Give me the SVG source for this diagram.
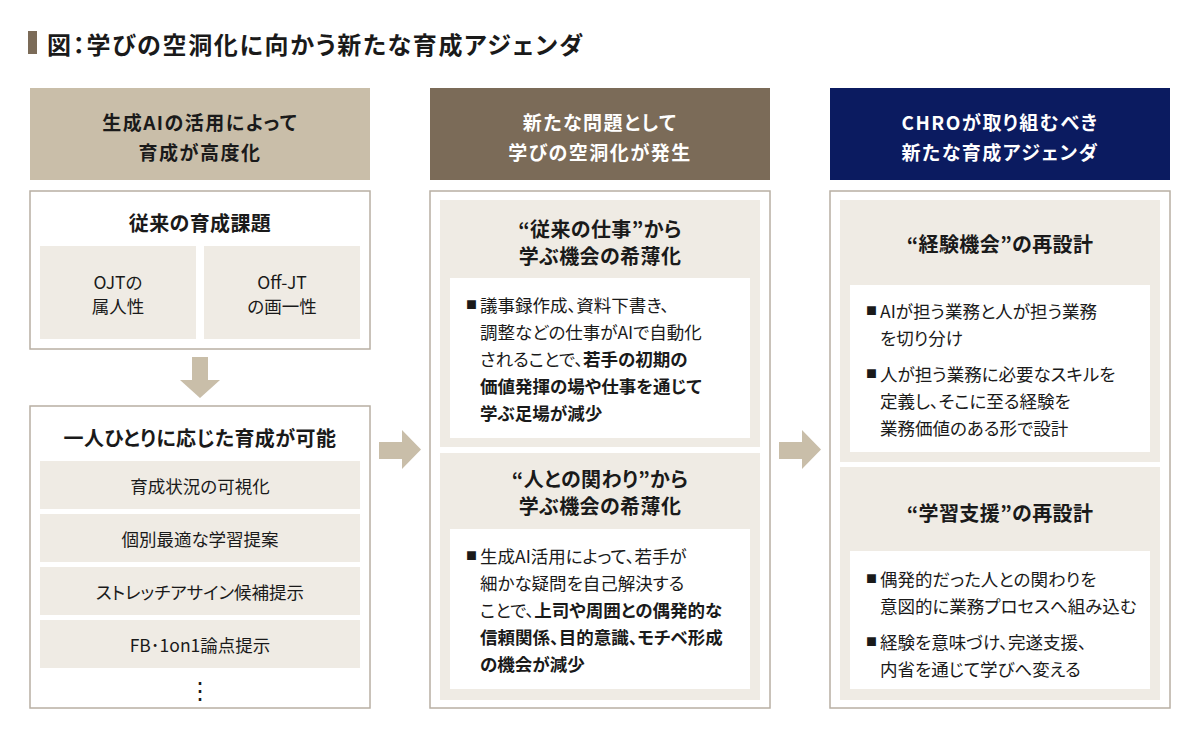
<svg xmlns="http://www.w3.org/2000/svg" width="1200" height="740" viewBox="0 0 1200 740">
<style>
text{font-family:"Noto Sans CJK JP","Noto Sans",sans-serif;fill:#1a1a1a;font-feature-settings:"palt";}
.c{text-anchor:middle;dominant-baseline:central;}
.l{dominant-baseline:central;}
.hd{font-size:19px;font-weight:700;letter-spacing:1.5px;}
.w{fill:#ffffff;}
.st{font-size:20px;font-weight:700;letter-spacing:0.4px;}
.tx{font-size:17.5px;}
.b{font-weight:700;}
.sq{font-size:11px;}
.box{fill:#ffffff;stroke:#b8afa3;stroke-width:1.5;}
.pan{fill:#efebe4;}
.wb{fill:#ffffff;}
.arr{fill:#c9bea9;}
</style>
<rect width="1200" height="740" fill="#ffffff"/>
<g id="title">
<rect x="28" y="31" width="9" height="23" fill="#7b6b58"/>
<text x="47" y="43" class="l" style="font-size:24px;font-weight:700;letter-spacing:1.7px">図：学びの空洞化に向かう新たな育成アジェンダ</text>
</g>
<g id="col1-header">
<rect x="30" y="88" width="340" height="92" fill="#c9bea9"/>
<text x="200" y="121" class="c hd">生成AIの活用によって</text>
<text x="200" y="151" class="c hd">育成が高度化</text>
</g>
<g id="col1-box1">
<rect x="30" y="191" width="340" height="158" class="box"/>
<text x="200" y="222" class="c st">従来の育成課題</text>
<rect x="40" y="246" width="156" height="93" class="pan"/>
<rect x="204" y="246" width="156" height="93" class="pan"/>
<text x="118" y="281" class="c tx">OJTの</text>
<text x="118" y="305" class="c tx">属人性</text>
<text x="282" y="281" class="c tx">Off-JT</text>
<text x="282" y="305" class="c tx">の画一性</text>
</g>
<g id="col1-box2">
<rect x="30" y="406" width="340" height="302" class="box"/>
<text x="200" y="437" class="c st">一人ひとりに応じた育成が可能</text>
<rect x="40" y="461" width="320" height="48" class="pan"/>
<rect x="40" y="514" width="320" height="48" class="pan"/>
<rect x="40" y="567" width="320" height="48" class="pan"/>
<rect x="40" y="620" width="320" height="48" class="pan"/>
<text x="200" y="485" class="c tx">育成状況の可視化</text>
<text x="200" y="538" class="c tx">個別最適な学習提案</text>
<text x="200" y="591" class="c tx">ストレッチアサイン候補提示</text>
<text x="200" y="644" class="c tx">FB･1on1論点提示</text>
<text x="200" y="688" class="c" style="font-size:24px">⋮</text>
</g>
<g id="col2-header">
<rect x="430" y="88" width="340" height="92" fill="#7b6b58"/>
<text x="600" y="121" class="c hd w">新たな問題として</text>
<text x="600" y="151" class="c hd w">学びの空洞化が発生</text>
</g>
<g id="col2-box">
<rect x="430" y="191" width="340" height="517" class="box"/>
<rect x="440" y="200" width="320" height="247" class="pan"/>
<text x="600" y="228" class="c st">“従来の仕事”から</text>
<text x="600" y="255" class="c st">学ぶ機会の希薄化</text>
<rect x="450" y="278" width="300" height="160" class="wb"/>
<text x="466" y="304" class="l sq">■</text>
<text x="480" y="304" class="l tx">議事録作成、資料下書き、</text>
<text x="480" y="331" class="l tx">調整などの仕事がAIで自動化</text>
<text x="480" y="358" class="l tx">されることで、<tspan class="b">若手の初期の</tspan></text>
<text x="480" y="385" class="l tx b">価値発揮の場や仕事を通じて</text>
<text x="480" y="412" class="l tx b">学ぶ足場が減少</text>
<rect x="440" y="453" width="320" height="247" class="pan"/>
<text x="600" y="478" class="c st">“人との関わり”から</text>
<text x="600" y="505" class="c st">学ぶ機会の希薄化</text>
<rect x="450" y="529" width="300" height="160" class="wb"/>
<text x="466" y="555" class="l sq">■</text>
<text x="480" y="555" class="l tx">生成AI活用によって、若手が</text>
<text x="480" y="582" class="l tx">細かな疑問を自己解決する</text>
<text x="480" y="609" class="l tx">ことで、<tspan class="b">上司や周囲との偶発的な</tspan></text>
<text x="480" y="636" class="l tx b">信頼関係、目的意識、モチベ形成</text>
<text x="480" y="663" class="l tx b">の機会が減少</text>
</g>
<g id="col3-header">
<rect x="830" y="88" width="340" height="92" fill="#0b1b60"/>
<text x="1000" y="121" class="c hd w">CHROが取り組むべき</text>
<text x="1000" y="151" class="c hd w">新たな育成アジェンダ</text>
</g>
<g id="col3-box">
<rect x="830" y="191" width="340" height="517" class="box"/>
<rect x="840" y="200" width="320" height="262" class="pan"/>
<text x="1000" y="243" class="c st">“経験機会”の再設計</text>
<rect x="850" y="285" width="300" height="167" class="wb"/>
<text x="866" y="310" class="l sq">■</text>
<text x="880" y="310" class="l tx">AIが担う業務と人が担う業務</text>
<text x="880" y="337" class="l tx">を切り分け</text>
<text x="866" y="373" class="l sq">■</text>
<text x="880" y="373" class="l tx">人が担う業務に必要なスキルを</text>
<text x="880" y="400" class="l tx">定義し、そこに至る経験を</text>
<text x="880" y="427" class="l tx">業務価値のある形で設計</text>
<rect x="840" y="467" width="320" height="233" class="pan"/>
<text x="1000" y="512" class="c st">“学習支援”の再設計</text>
<rect x="850" y="551" width="300" height="138" class="wb"/>
<text x="866" y="578" class="l sq">■</text>
<text x="880" y="578" class="l tx">偶発的だった人との関わりを</text>
<text x="880" y="605" class="l tx">意図的に業務プロセスへ組み込む</text>
<text x="866" y="641" class="l sq">■</text>
<text x="880" y="641" class="l tx">経験を意味づけ、完遂支援、</text>
<text x="880" y="668" class="l tx">内省を通じて学びへ変える</text>
</g>
<g id="connectors">
<polygon class="arr" points="192,357 208,357 208,380 220,380 200,398 180,380 192,380"/>
<polygon class="arr" points="379,442 402,442 402,430 421,449.5 402,469 402,459 379,459"/>
<polygon class="arr" points="779,442 802,442 802,430 821,449.5 802,469 802,459 779,459"/>
</g>
</svg>
